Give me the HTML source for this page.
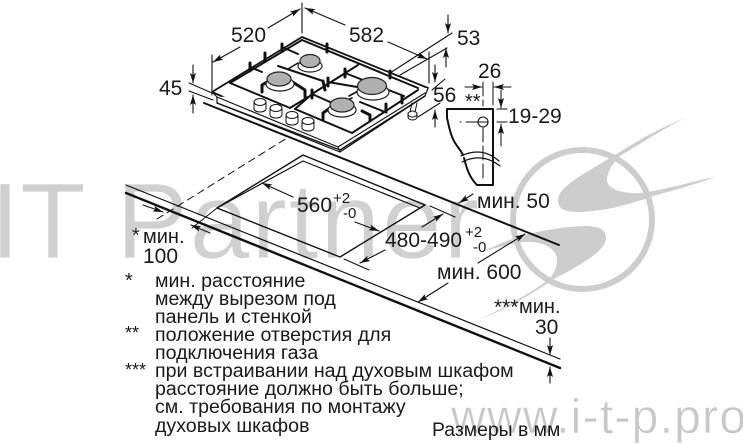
<!DOCTYPE html>
<html><head><meta charset="utf-8"><style>
html,body{margin:0;padding:0;background:#fff;width:743px;height:444px;overflow:hidden}
svg{display:block;filter:blur(.3px)}
text{font-family:"Liberation Sans","DejaVu Sans",sans-serif;fill:#1a1a1a}
</style></head><body>
<svg width="743" height="444" viewBox="0 0 743 444" xmlns="http://www.w3.org/2000/svg">
<defs>
<marker id="a" viewBox="0 0 10 6" refX="10" refY="3" markerWidth="10" markerHeight="6" markerUnits="userSpaceOnUse" orient="auto"><path d="M0 0L10 3L0 6L2 3Z" fill="#111"/></marker>
</defs>
<!-- watermark -->
<g fill="#cdcdcd">
<text x="-10" y="258" font-size="108" style="fill:#d0d0d0;stroke:#fff;stroke-width:.8px">IT</text>
<text x="116" y="258" font-size="108" letter-spacing="1.5" style="fill:#d0d0d0;stroke:#fff;stroke-width:.8px">Partner</text>
<text x="451" y="433" font-size="48" letter-spacing="1.25" style="fill:#c8c8c8;stroke:#fff;stroke-width:.5px">www.i-t-p.pro</text>
<circle cx="582.5" cy="219.5" r="69.5" fill="none" stroke="#cdcdcd" stroke-width="6"/>
<path d="M685 118C650 132 630 146 600 164C580 176 558 188 558 200C558 210 566 212 580 212C610 211 640 201 653 196C675 190 700 183 715 177C690 182 660 191 640 193C620 194 607 188 607 180C607 172 612 164 620 156C640 144 665 128 685 118Z"/>
<path d="M478 320C500 312 530 296 552 280C575 268 606 252 606 238C606 229 598 226 585 226C555 227 520 234 495 246C485 250 478 253 470 255C490 250 510 243 525 242C545 241 557 250 557 260C557 268 553 275 548 280C528 295 500 310 478 320Z"/>
</g>
<g fill="none" stroke="#111" stroke-linecap="round" stroke-linejoin="round">
<!-- countertop -->
<path d="M204 103L559 245" stroke-width="2"/>
<path d="M126 185L560 359" stroke-width="1.2"/>
<path d="M126 193L560 368" stroke-width="2.4"/>
<!-- cutout -->
<path d="M217 208L303 155L425 205L340 257Z" stroke-width="1.4"/>
<path d="M217 208L303 161L420 208" stroke-width="1.2"/>
<!-- dashed -->
<path d="M157 219L287 138" stroke-width="1" stroke-dasharray="7 5"/>
<path d="M192 228L217 208" stroke-width="1"/>
<!-- hob body -->
<path d="M212 92L302 37L428 88L338 147Z" stroke-width="1.8" fill="#fff"/>
<path d="M217 97V103L340 152L425 96L428 88" stroke-width="1.2" fill="#fff"/>
<path d="M212 92L217 97L338 147L340 152M338 147L425 93" stroke-width="1.1"/>
<path d="M217 103L340 150L425 96" stroke-width="1.4"/>
<path d="M302 40L418 88" stroke-width="2"/>
<!-- grates -->
<g stroke-width="2">
<path d="M230 83L302 40"/>
<path d="M230 83L290 108L308 97"/>
<path d="M295 109L352 133L418 90"/>
<path d="M295 109L312 94L358 65"/>
<path d="M250 67L262 72"/>
<path d="M282 47L298 54"/>
<path d="M278 66L323 81"/>
<path d="M312 94L330 102"/>
<path d="M345 73L404 96"/>
<path d="M360 102L385 112"/>
<path d="M363 88L328 82"/>
</g>
<g stroke-width="3">
<path d="M250 63V71M265 53V61M282 44V51M327 44V52M390 71V78"/>
<path d="M312 90V98M328 78V86M345 69V77"/>
<path d="M262 92V85L267 82M291 81L305 90V97"/>
<path d="M323 81L325 90"/>
<path d="M323 120V113L330 108M362 111L370 115V121"/>
<path d="M386 104V112M402 96V103"/>
</g>
<g stroke-width="1.6">
<path d="M288 69L298 63M349 96L360 90M340 103L352 98"/>
</g>
<!-- burners -->
<g stroke="#222" stroke-width="1.2">
<ellipse cx="310" cy="66" rx="12" ry="6" fill="#fff"/>
<ellipse cx="280" cy="84" rx="14" ry="7" fill="#fff"/>
<ellipse cx="373" cy="92" rx="16" ry="8" fill="#fff"/>
<ellipse cx="342" cy="110" rx="14" ry="7" fill="#fff"/>
<ellipse cx="310" cy="61" rx="10" ry="6.5" fill="#b0b0b0"/>
<ellipse cx="279" cy="79" rx="12" ry="7" fill="#b0b0b0"/>
<ellipse cx="372" cy="86" rx="14.5" ry="8.5" fill="#b0b0b0"/>
<ellipse cx="342" cy="105" rx="12" ry="7" fill="#b0b0b0"/>
</g>
<!-- knobs -->
<g stroke-width="1" fill="#fff">
<path d="M254 102V109A6 3 0 0 0 266 109V102"/><ellipse cx="260" cy="102" rx="6" ry="3.5"/>
<path d="M270 108V115A6 3 0 0 0 282 115V108"/><ellipse cx="276" cy="108" rx="6" ry="3.5"/>
<path d="M286 115V122A6 3 0 0 0 298 122V115"/><ellipse cx="292" cy="115" rx="6" ry="3.5"/>
<path d="M302 121V128A6 3 0 0 0 314 128V121"/><ellipse cx="308" cy="121" rx="6" ry="3.5"/>
<path d="M408 113V117A4.500 3 0 0 0 417 117V113"/><ellipse cx="412.500" cy="114" rx="4.500" ry="3"/>
<path d="M410 112L412 103M415 112L417 103"/>
</g>
<!-- dimension lines -->
<g stroke-width="1.1">
<path d="M212 55V95M302 3V33M429 52V83"/>
<path d="M268 28L300 9" marker-end="url(#a)"/>
<path d="M240 47L213 62" marker-end="url(#a)"/>
<path d="M345 25L305 8" marker-end="url(#a)"/>
<path d="M388 42L427 59" marker-end="url(#a)"/>
<path d="M390 73L452 33M400 75L447 48"/>
<path d="M448 15V33" marker-end="url(#a)"/>
<path d="M446 67V48" marker-end="url(#a)"/>
<path d="M432 90L445 79M418 117L440 103"/>
<path d="M435 65V82" marker-end="url(#a)"/>
<path d="M435 127V110" marker-end="url(#a)"/>
<path d="M189 83L212 93M189 91L213 100"/>
<path d="M193 65V83" marker-end="url(#a)"/>
<path d="M193 113V95" marker-end="url(#a)"/>
<path d="M473 194L459 203" marker-end="url(#a)"/>
<path d="M293 197L262 183" marker-end="url(#a)"/>
<path d="M355 222L379 231" marker-end="url(#a)"/>
<path d="M422 227L443 214" marker-end="url(#a)"/>
<path d="M430 206L455 217"/>
<path d="M385 250L360 263" marker-end="url(#a)"/>
<path d="M344 259L369 270"/>
<path d="M478 263L525 234" marker-end="url(#a)"/>
<path d="M448 283L418 302" marker-end="url(#a)"/>
<path d="M550 338V355" marker-end="url(#a)"/>
<path d="M550 383V367" marker-end="url(#a)"/>
<path d="M143 205L163 212" marker-end="url(#a)"/>
<path d="M210 233L191 225" marker-end="url(#a)"/>
</g>
<!-- bracket -->
<path d="M447 109H493V185H477C470 178 467 170 464 158M447 109V118C449 126 450 133 453 139C456 146 461 150 463 155" stroke-width="2"/>
<path d="M461 156Q482 146 499 161M462 162Q482 152 500 166" stroke-width="1.2"/>
<circle cx="483" cy="122" r="5" stroke-width="1.1"/>
<g stroke-width="1">
<path d="M483 82V106M483 128V180" stroke-dasharray="14 4"/>
<path d="M493 82V105M460 122H461M466 122H488"/>
<path d="M465 87H482" marker-end="url(#a)"/>
<path d="M511 87H494" marker-end="url(#a)"/>
<path d="M497 109H507M497 122H507"/>
<path d="M501 90V108" marker-end="url(#a)"/>
<path d="M501 146V124" marker-end="url(#a)"/>
</g>
</g>
<!-- labels -->
<g font-size="21">
<text x="231" y="42">520</text>
<text x="349" y="42">582</text>
<text x="457" y="45">53</text>
<text x="159" y="95">45</text>
<text x="433" y="102">56</text>
<text x="478" y="78">26</text>
<text x="508" y="123">19-29</text>
<text x="477" y="208">мин. 50</text>
<text x="297" y="212">560</text>
<text x="385" y="247">480-490</text>
<text x="437" y="279">мин. 600</text>
<text x="519" y="313" font-size="20">мин.</text>
<text x="535" y="334">30</text>
<text x="143" y="243" font-size="20">мин.</text>
<text x="143" y="263">100</text>
</g>
<g font-size="15">
<text x="333" y="203">+2</text>
<text x="343" y="218">-0</text>
<text x="465" y="237">+2</text>
<text x="473" y="252">-0</text>
</g>
<g font-size="20">
<text x="465" y="108">**</text>
<text x="494" y="314" font-size="21">***</text>
<text x="132" y="242">*</text>
<text x="125" y="287">*</text>
<text x="125" y="339" font-size="18">**</text>
<text x="125" y="376" font-size="18">***</text>
</g>
<g font-size="19.600">
<text x="155" y="287">мин. расстояние</text>
<text x="155" y="305">между вырезом под</text>
<text x="155" y="323">панель и стенкой</text>
<text x="155" y="341">положение отверстия для</text>
<text x="155" y="359">подключения газа</text>
<text x="155" y="377">при встраивании над духовым шкафом</text>
<text x="155" y="395">расстояние должно быть больше;</text>
<text x="155" y="413">см. требования по монтажу</text>
<text x="155" y="432">духовых шкафов</text>
<text x="432" y="436" font-size="19.400">Размеры в мм</text>
</g>
</svg>
</body></html>
